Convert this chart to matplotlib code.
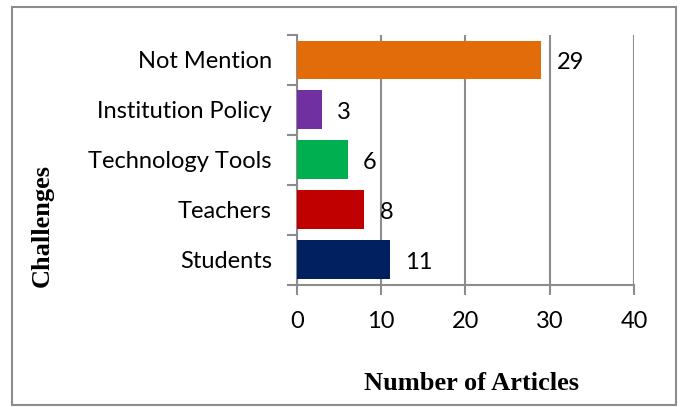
import matplotlib.pyplot as plt
from matplotlib.patches import Rectangle

# data
challenges = ["Students", "Teachers", "Technology Tools", "Institution Policy", "Not Mention"]
articles = [11, 8, 6, 3, 29]
colors = ["#002060", "#C00000", "#00B050", "#7030A0", "#E36C0A"]

fig = plt.figure(figsize=(6.83, 4.07), dpi=100)
ax = fig.add_axes([0.4348, 0.2998, 0.4935, 0.6142])

ypos = range(len(challenges))
ax.barh(ypos, articles, height=0.78, color=colors, zorder=3)

# value labels
for y, v in zip(ypos, articles):
    ax.text(v + 1.8, y - 0.05, str(v), va="center", ha="left", fontsize=17, family="Lato")

ax.set_xlim(0, 40)
ax.set_ylim(-0.5, len(challenges) - 0.5)
ax.set_xticks([0, 10, 20, 30, 40])
ax.set_yticks(list(ypos))
ax.set_yticklabels(challenges)
ax.set_yticks([i - 0.5 for i in range(len(challenges) + 1)], minor=True)
ax.xaxis.grid(True, color="#8c8c8c", linewidth=1.5, zorder=0)

for s in ["top", "right"]:
    ax.spines[s].set_visible(False)
for s in ["left", "bottom"]:
    ax.spines[s].set_color("#8c8c8c")
    ax.spines[s].set_linewidth(1.5)

ax.tick_params(axis="y", which="major", length=0, pad=18, labelsize=17)
ax.tick_params(axis="y", which="minor", length=7, width=1.5, color="#8c8c8c")
ax.tick_params(axis="x", length=7, width=1.5, color="#8c8c8c", pad=12, labelsize=17)
for lab in ax.get_xticklabels() + ax.get_yticklabels():
    lab.set_family("Lato")

fig.text(0.0615, 0.447, "Challenges", rotation=90, va="center", ha="center",
         fontsize=19, fontweight="bold", family="Liberation Serif")
fig.text(0.69, 0.058, "Number of Articles", va="center", ha="center",
         fontsize=19, fontweight="bold", family="Liberation Serif")

# outer border
fig.patches.append(Rectangle((12 / 683, 2 / 407), 664 / 683, 398 / 407,
                             transform=fig.transFigure, fill=False,
                             edgecolor="#8c8c8c", linewidth=1.5))

fig.savefig("out.png", dpi=100)
